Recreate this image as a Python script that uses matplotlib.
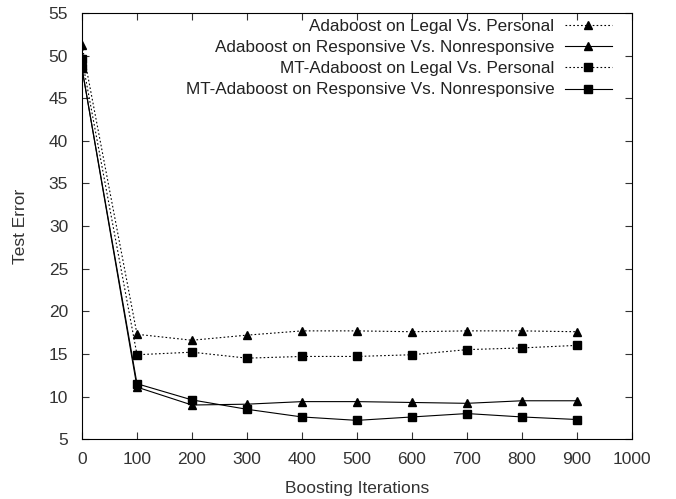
import matplotlib
matplotlib.use("Agg")
import matplotlib.pyplot as plt

plt.rcParams['font.family'] = ['Liberation Sans', 'DejaVu Sans']

iters = [0, 100, 200, 300, 400, 500, 600, 700, 800, 900]
ada_lp = [51.2, 17.3, 16.6, 17.2, 17.7, 17.7, 17.6, 17.7, 17.7, 17.6]
ada_rn = [48.5, 11.1, 9.0, 9.1, 9.4, 9.4, 9.3, 9.2, 9.5, 9.5]
mt_lp = [49.6, 14.9, 15.2, 14.5, 14.7, 14.7, 14.9, 15.5, 15.7, 16.0]
mt_rn = [48.5, 11.5, 9.6, 8.5, 7.6, 7.2, 7.6, 8.0, 7.6, 7.3]

fig = plt.figure(figsize=(6.76, 4.99), dpi=100)
ax = fig.add_axes([0.1213, 0.120, 0.8137, 0.854])

kw = dict(color='black', linewidth=0.8, markersize=6)
ax.plot(iters, ada_lp, linestyle=(0, (1.5, 2)), marker='^', label='Adaboost on Legal Vs. Personal', **kw)
ax.plot(iters, ada_rn, linestyle='-', marker='^', label='Adaboost on Responsive Vs. Nonresponsive', **kw)
ax.plot(iters, mt_lp, linestyle=(0, (1.5, 2)), marker='s', label='MT-Adaboost on Legal Vs. Personal', **kw)
ax.plot(iters, mt_rn, linestyle='-', marker='s', label='MT-Adaboost on Responsive Vs. Nonresponsive', **kw)

ax.set_xlim(0, 1000)
ax.set_ylim(5, 55)
ax.set_xticks(range(0, 1001, 100))
ax.set_yticks(range(5, 56, 5))
ax.tick_params(direction='in', top=True, right=True, labelsize=12.5, length=5, colors='#333333')
ax.tick_params(axis='x', pad=9)
ax.tick_params(axis='y', pad=10)
for s in ax.spines.values():
    s.set_linewidth(0.8)
ax.set_xlabel('Boosting Iterations', fontsize=12.5, color='#333333', labelpad=10)
ax.set_ylabel('Test Error', fontsize=12.5, color='#333333', labelpad=15)

leg = ax.legend(loc='upper right', bbox_to_anchor=(0.969, 0.995), markerfirst=False, frameon=False,
                fontsize=12.3, handlelength=2.75, labelspacing=0.37, borderaxespad=0, borderpad=0.2,
                handletextpad=0.6)
for t in leg.get_texts():
    t.set_color('#222222')

fig.savefig('out.png', dpi=100)
